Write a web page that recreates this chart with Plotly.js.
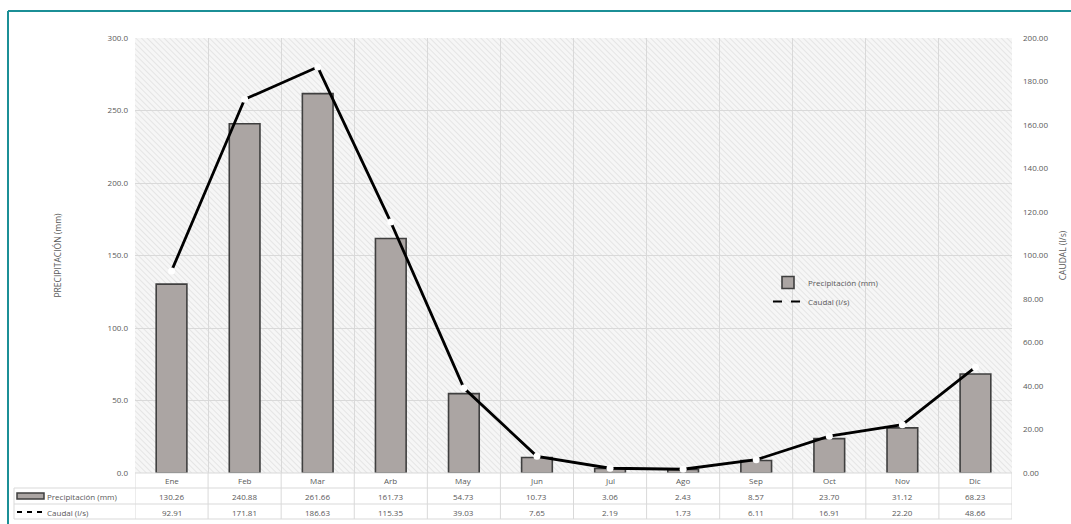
<!DOCTYPE html>
<html>
<head>
<meta charset="utf-8">
<script src="https://cdn.plot.ly/plotly-3.0.1.min.js"></script>
<style>
html,body{margin:0;padding:0;background:#fff;}
#chart{width:1071px;height:524px;}
</style>
</head>
<body>
<div id="chart"></div>
<script>
const months = ["Ene","Feb","Mar","Arb","May","Jun","Jul","Ago","Sep","Oct","Nov","Dic"];
const precipitacion = [130.26,240.88,261.66,161.73,54.73,10.73,3.06,2.43,8.57,23.70,31.12,68.23];
const caudal = [92.91,171.81,186.63,115.35,39.03,7.65,2.19,1.73,6.11,16.91,22.20,48.66];
const precipLabel = "Precipitación (mm)";
const caudalLabel = "Caudal (l/s)";

const W = 1071, H = 524;
const L = 135, R = 1012, T = 38, B = 473;
const pw = R - L, ph = B - T;
const px = x => (x - L) / pw;     // pixel -> paper x
const py = y => (B - y) / ph;     // pixel -> paper y
const txtColor = "#595959";
const gridColor = "#d9d9d9";
const fontFam = "'Open Sans', 'DejaVu Sans', sans-serif";

// hatched plot background (decoration)
const hatchSvg = `<svg xmlns="http://www.w3.org/2000/svg" width="${pw}" height="${ph}">` +
  `<defs><pattern id="h" width="4" height="4" patternUnits="userSpaceOnUse" patternTransform="rotate(-45)">` +
  `<rect width="4" height="4" fill="#f6f6f6"/><line x1="0" y1="0" x2="0" y2="4" stroke="#dedede" stroke-width="1.4"/></pattern></defs>` +
  `<rect width="100%" height="100%" fill="url(#h)"/></svg>`;
const hatchUri = "data:image/svg+xml;base64," + btoa(hatchSvg);

const traces = [
  {
    type: "bar", x: months, y: precipitacion, name: precipLabel,
    width: 0.42,
    marker: {color: "#aba5a3", line: {color: "#3f3f3f", width: 1.6}},
    yaxis: "y", hoverinfo: "x+y"
  },
  {
    type: "scatter", mode: "lines+markers", x: months, y: caudal, name: caudalLabel,
    line: {color: "#000000", width: 2.8},
    marker: {color: "#ffffff", size: 7, line: {width: 0}},
    yaxis: "y2", showlegend: false
  },
  {
    type: "scatter", mode: "lines", x: [null], y: [null], name: caudalLabel,
    line: {color: "#000000", width: 2.2, dash: "dash"},
    yaxis: "y2", hoverinfo: "skip"
  }
];

const shapes = [];
const annotations = [];

// frame (teal)
shapes.push({type:"line", xref:"paper", yref:"paper", x0:px(8), x1:px(1071), y0:py(11), y1:py(11), line:{color:"#1b8f96", width:2}});
shapes.push({type:"line", xref:"paper", yref:"paper", x0:px(8), x1:px(8), y0:py(11), y1:py(524), line:{color:"#1b8f96", width:2}});

// data table grid
const rowY = [473, 488, 504, 519];
rowY.forEach((y, i) => {
  shapes.push({type:"line", xref:"paper", yref:"paper", x0: i === 0 ? 0 : px(14), x1:1, y0:py(y), y1:py(y), line:{color:gridColor, width:1}});
});
for (let i = 0; i <= months.length; i++) {
  shapes.push({type:"line", xref:"x", yref:"paper", x0:i-0.5, x1:i-0.5, y0:py(473), y1:py(519), line:{color:gridColor, width:1}});
}
shapes.push({type:"line", xref:"paper", yref:"paper", x0:px(14), x1:px(14), y0:py(488), y1:py(519), line:{color:gridColor, width:1}});

// table content
const rowCenters = [481, 496, 512];
const cellFont = {size:8, color:txtColor, family:fontFam};
months.forEach((m, i) => {
  annotations.push({xref:"x", yref:"paper", x:m, y:py(rowCenters[0]), xanchor:"center", yanchor:"middle", text:m, showarrow:false, font:cellFont});
  annotations.push({xref:"x", yref:"paper", x:m, y:py(rowCenters[1]), xanchor:"center", yanchor:"middle", text:precipitacion[i].toFixed(2), showarrow:false, font:cellFont});
  annotations.push({xref:"x", yref:"paper", x:m, y:py(rowCenters[2]), xanchor:"center", yanchor:"middle", text:caudal[i].toFixed(2), showarrow:false, font:cellFont});
});
// row headers
shapes.push({type:"rect", xref:"paper", yref:"paper", x0:px(17), x1:px(44), y0:py(493), y1:py(499), fillcolor:"#aba5a3", line:{color:"#3f3f3f", width:1.5}});
shapes.push({type:"line", xref:"paper", yref:"paper", x0:px(17), x1:px(44), y0:py(512), y1:py(512), line:{color:"#000", width:2.2, dash:"5px,5px"}});
annotations.push({xref:"paper", yref:"paper", x:px(45), y:py(496), xanchor:"left", yanchor:"middle", text:precipLabel, showarrow:false, font:cellFont});
annotations.push({xref:"paper", yref:"paper", x:px(45), y:py(512), xanchor:"left", yanchor:"middle", text:caudalLabel, showarrow:false, font:cellFont});

const layout = {
  width: W, height: H,
  margin: {l: L, r: W - R, t: T, b: H - B, pad: 0},
  paper_bgcolor: "#ffffff",
  plot_bgcolor: "#efefef",
  showlegend: true,
  legend: {
    x: px(768), y: py(268), xanchor: "left", yanchor: "top",
    bgcolor: "rgba(0,0,0,0)", font: {size: 8, color: txtColor, family: fontFam},
    tracegroupgap: 2
  },
  bargap: 0.58,
  xaxis: {
    type: "category", tickson: "boundaries", showgrid: true, gridcolor: gridColor, gridwidth: 1,
    showticklabels: false, ticks: "", zeroline: false, showline: false, range: [-0.5, 11.5]
  },
  yaxis: {
    range: [0, 300], dtick: 50, tickformat: ".1f", showgrid: true, gridcolor: gridColor,
    zeroline: false, ticks: "", ticklabelstandoff: 6,
    tickfont: {size: 8, color: txtColor, family: fontFam},
    title: {text: "PRECIPITACIÓN (mm)", font: {size: 8.5, color: txtColor, family: fontFam}, standoff: 44}
  },
  yaxis2: {
    overlaying: "y", side: "right", range: [0, 200], dtick: 20, tickformat: ".2f",
    showgrid: false, zeroline: false, ticks: "", ticklabelstandoff: 10,
    tickfont: {size: 8, color: txtColor, family: fontFam},
    title: {text: "CAUDAL (l/s)", font: {size: 8.5, color: txtColor, family: fontFam}, standoff: 12}
  },
  images: [{
    source: hatchUri, xref: "paper", yref: "paper", x: 0, y: 1, sizex: 1, sizey: 1,
    xanchor: "left", yanchor: "top", sizing: "stretch", layer: "below"
  }],
  shapes: shapes,
  annotations: annotations
};

Plotly.newPlot("chart", traces, layout, {displayModeBar: false, staticPlot: true});
</script>
</body>
</html>
